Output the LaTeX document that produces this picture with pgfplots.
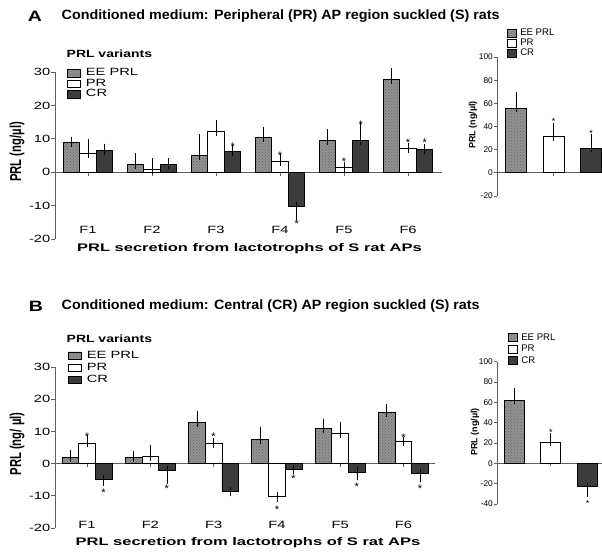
\documentclass[border=0pt]{standalone}
\usepackage{fontspec}
\setmainfont{Liberation Sans}
\usepackage{graphicx}
\usepackage{pgfplots}
\pgfplotsset{compat=1.18}
\usepackage{pgfplotstable}
\usetikzlibrary{patterns}

\definecolor{eefill}{HTML}{929292}
\definecolor{crfill}{HTML}{3C3C3C}
\definecolor{axcol}{HTML}{606060}
\newcommand{\sx}[1]{\scalebox{1.4}[1]{#1}}
\newcommand{\fs}[1]{\fontsize{#1}{#1}\selectfont}

% Panel A main
\pgfplotstableread{
x y ep em
1 9.0 0.3 0
2 2.3 2.0 0
3 5.1 4.9 0
4 10.4 1.8 0
5 9.5 2.0 0
6 27.7 2.1 0
}\tAee
\pgfplotstableread{
x y ep em
1 5.6 3.1 0
2 0.9 2.0 0
3 12.2 2.0 0
4 3.3 1.0 0
5 1.5 0.3 0
6 7.2 0.1 0
}\tApr
\pgfplotstableread{
x y ep em
1 6.4 0.8 0
2 2.4 0.4 0
3 6.1 0.7 0
4 -10.2 0 2.7
5 9.4 4.2 0
6 6.8 0.2 0
}\tAcr
% Panel A inset
\pgfplotstableread{
x y ep em
1 55.5 10.9 0
}\tAiee
\pgfplotstableread{
x y ep em
2 31.0 8.7 0
}\tAipr
\pgfplotstableread{
x y ep em
3 21.0 9.2 0
}\tAicr
% Panel B main
\pgfplotstableread{
x y ep em
1 1.8 0.9 0
2 1.8 0.8 0
3 12.8 2.1 0
4 7.4 2.6 0
5 11.0 1.4 0
6 15.8 1.4 0
}\tBee
\pgfplotstableread{
x y ep em
1 6.4 1.2 0
2 2.3 2.1 0
3 6.2 0.4 0
4 -10.2 0 0.3
5 9.4 2.0 0
6 6.8 0.1 0
}\tBpr
\pgfplotstableread{
x y ep em
1 -4.8 0 0.8
2 -2.2 0 2.7
3 -8.7 0 0.1
4 -1.7 0 0.2
5 -2.6 0 1.2
6 -3.0 0 1.3
}\tBcr
% Panel B inset
\pgfplotstableread{
x y ep em
1 61.7 9.1 0
}\tBiee
\pgfplotstableread{
x y ep em
2 20.5 6.1 0
}\tBipr
\pgfplotstableread{
x y ep em
3 -22.7 0 6.5
}\tBicr

\pgfplotsset{
  prism/.style={
    scale only axis,
    axis x line=middle, axis y line=left,
    axis line style={-, axcol, line width=0.7pt},
    every inner x axis line/.append style={-},
    every outer y axis line/.append style={-},
    tick style={axcol, line width=0.7pt},
    tick align=outside,
    major tick length=3.5pt,
    xticklabels={},
    yticklabel style={font=\fs{10.5}, inner sep=1pt},
    legend cell align=left,
    clip=false,
  },
  ebar/.style={error bars/.cd, y dir=both, y explicit,
    error bar style={black, line width=0.8pt},
    error mark options={black, line width=0.8pt, mark size=#1}},
  eebar/.style={fill=eefill, draw=black, line width=0.9pt,
    postaction={pattern=crosshatch dots, pattern color=black!60}},
  prbar/.style={fill=white, draw=black, line width=0.9pt},
  crbar/.style={fill=crfill, draw=black, line width=0.9pt},
}
\tikzset{astx/.style={font=\fs{11}, inner sep=0pt, yshift=-2.4pt}}

\begin{document}
\begin{tikzpicture}
\useasboundingbox (0,0) rectangle (602pt,-553pt);
\clip (0,0) rectangle (602pt,-553pt);

% ---------- Titles ----------
\node[font=\bfseries\fs{15}] at (35pt,-16pt) {\scalebox{1.3}[1]{A}};
\node[font=\bfseries\fs{13.5}, anchor=west, inner sep=0pt] at (61.5pt,-16pt)
  {\scalebox{1.06}[1]{Conditioned medium: Peripheral (PR) AP region suckled (S) rats}};
\node[font=\bfseries\fs{15}] at (36pt,-306pt) {\scalebox{1.3}[1]{B}};
\node[font=\bfseries\fs{13.5}, anchor=west, inner sep=0pt] at (61.5pt,-306pt)
  {\scalebox{1.06}[1]{Conditioned medium: Central (CR) AP region suckled (S) rats}};

% ---------- Panel A main ----------
\node[font=\bfseries\fs{10.5}, anchor=west, inner sep=0pt] at (66.5pt,-53.5pt) {\scalebox{1.33}[1]{PRL variants}};
\node[font=\bfseries\fs{11.3}, rotate=90] at (17pt,-152pt) {\scalebox{1}[1.4]{PRL (ng/µl)}};
\node[font=\bfseries\fs{11}] at (249.5pt,-249pt) {\scalebox{1.5}[1]{PRL secretion from lactotrophs of S rat APs}};
\begin{axis}[prism, at={(55pt,-239pt)}, anchor=south west,
  width=387pt, height=167pt, xmin=0.484, xmax=6.53, ymin=-20, ymax=30,
  ytick={-20,-10,0,10,20,30},
  yticklabels={\sx{-20},\sx{-10},\sx{0},\sx{10},\sx{20},\sx{30}},
  xtick={1,2,3,4,5,6},
  ybar=0pt, bar width=16.5pt,
  legend style={at={(0.031,1.025)}, anchor=north west, draw=none, fill=none,
    font=\fs{10.5}, inner sep=0pt, column sep=5pt,
    nodes={inner sep=0.5pt, text height=7pt, text depth=2.5pt}},
  legend image code/.code={\draw[#1, line width=0.7pt] (0pt,-3.8pt) rectangle (12.5pt,3.8pt);},
  ]
\addplot[eebar, ebar=4.5pt] table[x=x, y=y, y error plus=ep, y error minus=em] {\tAee};
\addplot[prbar, ebar=4.5pt] table[x=x, y=y, y error plus=ep, y error minus=em] {\tApr};
\addplot[crbar, ebar=4.5pt] table[x=x, y=y, y error plus=ep, y error minus=em] {\tAcr};
\legend{\sx{EE PRL},\sx{PR},\sx{CR}}
\node[font=\fs{10.5}] at (axis cs:1,-17.3) {\sx{F1}};
\node[font=\fs{10.5}] at (axis cs:2,-17.3) {\sx{F2}};
\node[font=\fs{10.5}] at (axis cs:3,-17.3) {\sx{F3}};
\node[font=\fs{10.5}] at (axis cs:4,-17.3) {\sx{F4}};
\node[font=\fs{10.5}] at (axis cs:5,-17.3) {\sx{F5}};
\node[font=\fs{10.5}] at (axis cs:6,-17.3) {\sx{F6}};
\node[astx] at (axis cs:3.26,8.2) {*};
\node[astx] at (axis cs:4,5.8) {*};
\node[astx] at (axis cs:4.26,-14.6) {*};
\node[astx] at (axis cs:5,4.0) {*};
\node[astx] at (axis cs:5.26,15.0) {*};
\node[astx] at (axis cs:6,9.6) {*};
\node[astx] at (axis cs:6.26,9.6) {*};
\end{axis}

% ---------- Panel A inset ----------
\node[font=\bfseries\fs{9}, rotate=90] at (473pt,-125pt) {PRL (ng/µl)};
\begin{axis}[prism, at={(497pt,-196pt)}, anchor=south west,
  width=105pt, height=139pt, xmin=0.493, xmax=3.293, ymin=-20, ymax=100,
  ytick={-20,0,20,40,60,80,100},
  yticklabels={-20,0,20,40,60,80,100},
  yticklabel style={font=\fs{8.3}},
  major tick length=3pt,
  xtick={2}, clip=true,
  legend style={at={(0.095,1.209)}, anchor=north west, draw=none, fill=none,
    font=\fs{9.6}, inner sep=0pt, column sep=3pt,
    nodes={inner sep=0.5pt, text height=6.5pt, text depth=2.5pt}},
  legend image code/.code={\draw[#1, line width=0.6pt] (0pt,-4pt) rectangle (9pt,4pt);},
  ]
\addplot[ybar, bar width=21pt, bar shift=0pt, eebar, ebar=3.8pt] table[x=x, y=y, y error plus=ep, y error minus=em] {\tAiee};
\addplot[ybar, bar width=21pt, bar shift=0pt, prbar, ebar=3.8pt] table[x=x, y=y, y error plus=ep, y error minus=em] {\tAipr};
\addplot[ybar, bar width=21pt, bar shift=0pt, crbar, ebar=3.8pt] table[x=x, y=y, y error plus=ep, y error minus=em] {\tAicr};
\legend{EE PRL,PR,CR}
\node[astx, font=\fs{9}, yshift=-0.5pt] at (axis cs:2,46.5) {*};
\node[astx, font=\fs{9}, yshift=-0.5pt] at (axis cs:3,36.5) {*};
\end{axis}

% ---------- Panel B main ----------
\node[font=\bfseries\fs{10.5}, anchor=west, inner sep=0pt] at (66.5pt,-339pt) {\scalebox{1.33}[1]{PRL variants}};
\node[font=\bfseries\fs{11.3}, rotate=90] at (17pt,-444pt) {\scalebox{1}[1.4]{PRL (ng/ µl)}};
\node[font=\bfseries\fs{11}] at (248pt,-543pt) {\scalebox{1.5}[1]{PRL secretion from lactotrophs of S rat APs}};
\begin{axis}[prism, at={(55pt,-528pt)}, anchor=south west,
  width=380pt, height=161pt, xmin=0.494, xmax=6.497, ymin=-20, ymax=30,
  ytick={-20,-10,0,10,20,30},
  yticklabels={\sx{-20},\sx{-10},\sx{0},\sx{10},\sx{20},\sx{30}},
  xtick={1,2,3,4,5,6},
  ybar=0pt, bar width=16.7pt,
  legend style={at={(0.034,1.109)}, anchor=north west, draw=none, fill=none,
    font=\fs{10.5}, inner sep=0pt, column sep=5pt,
    nodes={inner sep=0.5pt, text height=8pt, text depth=3pt}},
  legend image code/.code={\draw[#1, line width=0.7pt] (0pt,-3.8pt) rectangle (12.5pt,3.8pt);},
  ]
\addplot[eebar, ebar=4.5pt] table[x=x, y=y, y error plus=ep, y error minus=em] {\tBee};
\addplot[prbar, ebar=4.5pt] table[x=x, y=y, y error plus=ep, y error minus=em] {\tBpr};
\addplot[crbar, ebar=4.5pt] table[x=x, y=y, y error plus=ep, y error minus=em] {\tBcr};
\legend{\sx{EE PRL},\sx{PR},\sx{CR}}
\node[font=\fs{10.5}] at (axis cs:1,-18.9) {\sx{F1}};
\node[font=\fs{10.5}] at (axis cs:2,-18.9) {\sx{F2}};
\node[font=\fs{10.5}] at (axis cs:3,-18.9) {\sx{F3}};
\node[font=\fs{10.5}] at (axis cs:4,-18.9) {\sx{F4}};
\node[font=\fs{10.5}] at (axis cs:5,-18.9) {\sx{F5}};
\node[font=\fs{10.5}] at (axis cs:6,-18.9) {\sx{F6}};
\node[astx] at (axis cs:1,9.2) {*};
\node[astx] at (axis cs:1.26,-8.4) {*};
\node[astx] at (axis cs:2.26,-7.0) {*};
\node[astx] at (axis cs:3,9.0) {*};
\node[astx] at (axis cs:4,-13.5) {*};
\node[astx] at (axis cs:4.26,-4.1) {*};
\node[astx] at (axis cs:5.26,-6.3) {*};
\node[astx] at (axis cs:6,8.7) {*};
\node[astx] at (axis cs:6.26,-7.0) {*};
\end{axis}

% ---------- Panel B inset ----------
\node[font=\bfseries\fs{9}, rotate=90] at (475pt,-432pt) {PRL (ng/µl)};
\begin{axis}[prism, at={(497pt,-504pt)}, anchor=south west,
  width=105pt, height=142.3pt, xmin=0.537, xmax=3.394, ymin=-40, ymax=100,
  ytick={-40,-20,0,20,40,60,80,100},
  yticklabels={-40,-20,0,20,40,60,80,100},
  yticklabel style={font=\fs{8.3}},
  major tick length=3pt,
  xtick={2}, clip=false,
  legend style={at={(0.105,1.21)}, anchor=north west, draw=none, fill=none,
    font=\fs{9.6}, inner sep=0pt, column sep=3pt,
    nodes={inner sep=0.5pt, text height=7.5pt, text depth=3pt}},
  legend image code/.code={\draw[#1, line width=0.6pt] (0pt,-4pt) rectangle (9pt,4pt);},
  ]
\addplot[ybar, bar width=20pt, bar shift=0pt, eebar, ebar=3.8pt] table[x=x, y=y, y error plus=ep, y error minus=em] {\tBiee};
\addplot[ybar, bar width=20pt, bar shift=0pt, prbar, ebar=3.8pt] table[x=x, y=y, y error plus=ep, y error minus=em] {\tBipr};
\addplot[ybar, bar width=20pt, bar shift=0pt, crbar, ebar=3.8pt] table[x=x, y=y, y error plus=ep, y error minus=em] {\tBicr};
\legend{EE PRL,PR,CR}
\node[astx, font=\fs{9}, yshift=-1pt] at (axis cs:2,33.4) {*};
\node[astx, font=\fs{9}, yshift=-1pt] at (axis cs:3,-36) {*};
\end{axis}
\end{tikzpicture}
\end{document}
